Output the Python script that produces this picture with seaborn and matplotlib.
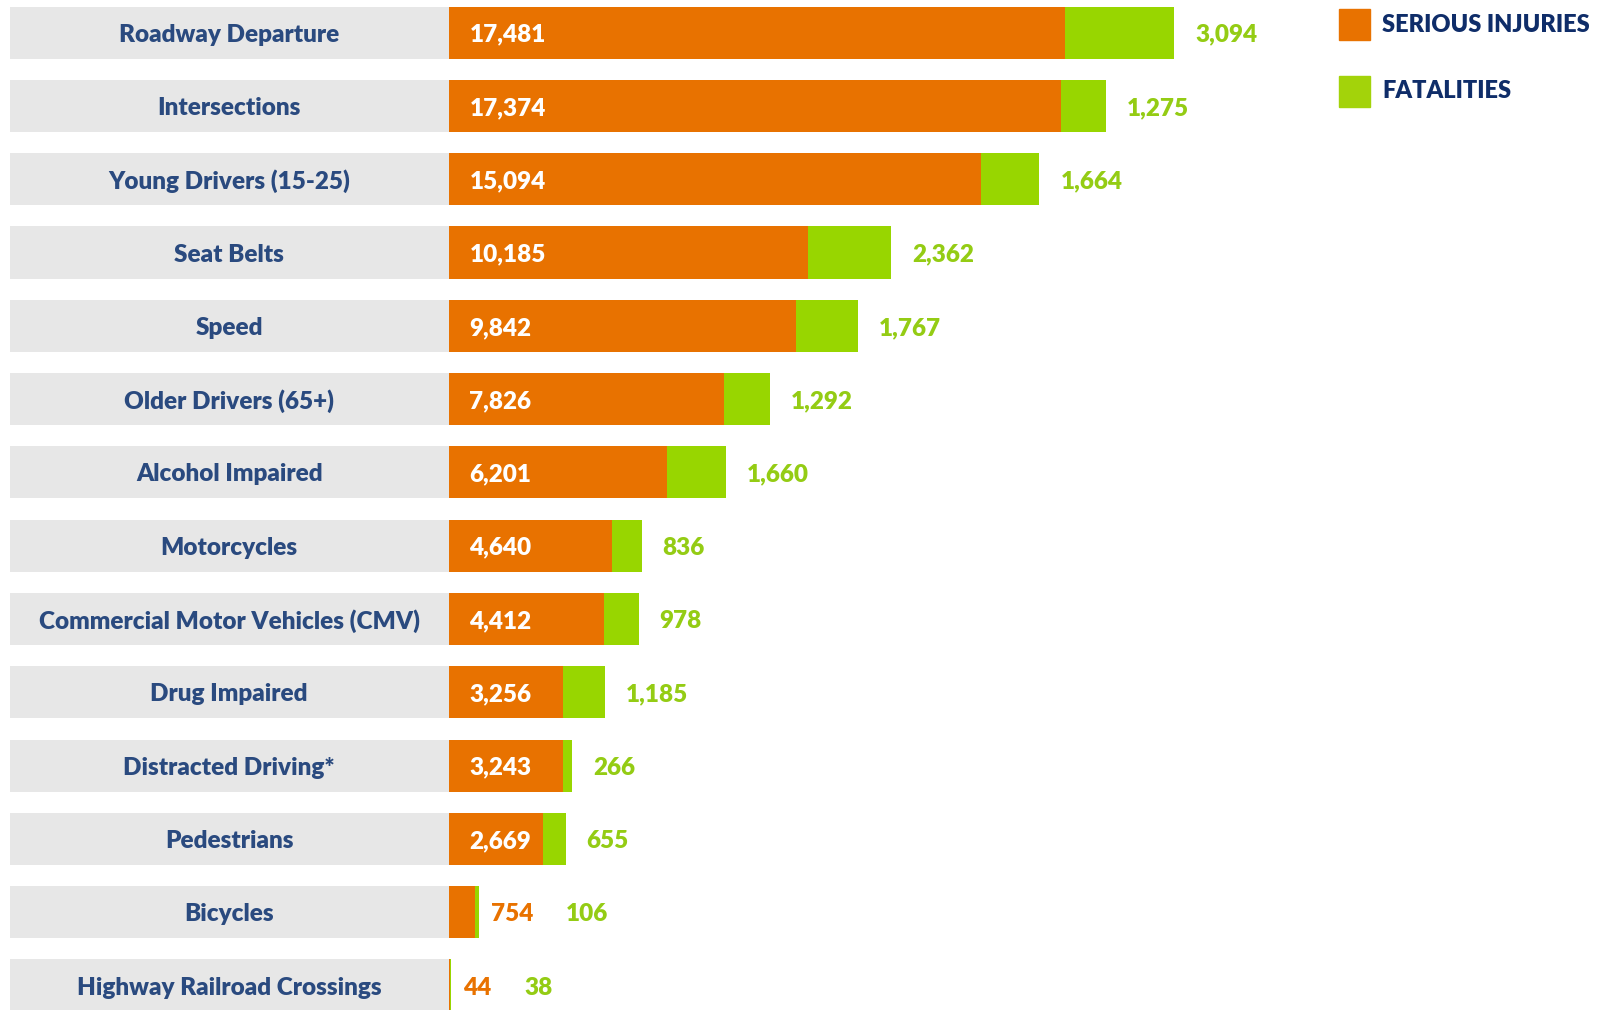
import numpy as np
import pandas as pd
import seaborn as sns
from matplotlib import pyplot as plt
from matplotlib.patches import Rectangle

# dados
categorias = ['Roadway Departure', 'Intersections', 'Young Drivers (15-25)', 'Seat Belts', 'Speed',
              'Older Drivers (65+)', 'Alcohol Impaired', 'Motorcycles', 'Commercial Motor Vehicles (CMV)',
              'Drug Impaired', 'Distracted Driving*', 'Pedestrians', 'Bicycles', 'Highway Railroad Crossings']
feridos = [17481, 17374, 15094, 10185, 9842, 7826, 6201, 4640, 4412, 3256, 3243, 2669, 754, 44]
mortes = [3094, 1275, 1664, 2362, 1767, 1292, 1660, 836, 978, 1185, 266, 655, 106, 38]
legenda = ['SERIOUS INJURIES', 'FATALITIES']

laranja = '#e87200'
verde = '#98d600'
verde_txt = '#94cc14'
cinza = '#e7e7e7'
azul = '#2a4a7f'
azul_leg = '#0f2d69'

plt.rcParams['font.family'] = ['Lato', 'DejaVu Sans']
PESO = 'heavy'
TAM = 17.5

df = pd.DataFrame({'categoria': categorias, 'feridos': feridos, 'mortes': mortes})
df['total'] = df['feridos'] + df['mortes']

W, H = 1598, 1010
U = 28.36      # unidades por pixel
X0 = 448.5     # pixel onde comeca a barra
fig = plt.figure(figsize=(W / 100, H / 100), dpi=100)
ax = fig.add_axes([0, 0, 1, 1])

# caixas cinzas dos rotulos
pos = np.arange(len(categorias))
larg_cinza = (X0 - 10) * U
ax.barh(pos, larg_cinza, left=-larg_cinza, height=0.71, color=cinza, linewidth=0)

# barras empilhadas: total (verde) por baixo, feridos (laranja) por cima
sns.barplot(data=df, x='total', y='categoria', color=verde, saturation=1, width=0.71,
            errorbar=None, linewidth=0, ax=ax)
sns.barplot(data=df, x='feridos', y='categoria', color=laranja, saturation=1, width=0.71,
            errorbar=None, linewidth=0, ax=ax)

ax.set_xlim(-X0 * U, (W - X0) * U)
ax.set_ylim(13.334, -0.445)
ax.axis('off')

for i, row in df.iterrows():
    ax.annotate(row['categoria'], xy=(-larg_cinza / 2, i), xytext=(0, -2), textcoords='offset pixels',
                ha='center', va='center', fontsize=TAM, fontweight=PESO, color=azul)
    if row['feridos'] >= 1000:
        ax.annotate(f"{row['feridos']:,}", xy=(0, i), xytext=(21, -2), textcoords='offset pixels',
                    ha='left', va='center', fontsize=TAM, fontweight=PESO, color='white')
        ax.annotate(f"{row['mortes']:,}", xy=(row['total'], i), xytext=(21, -2), textcoords='offset pixels',
                    ha='left', va='center', fontsize=TAM, fontweight=PESO, color=verde_txt)
    else:
        txt = f"{row['feridos']:,}"
        ax.annotate(txt, xy=(row['total'], i), xytext=(12, -2), textcoords='offset pixels',
                    ha='left', va='center', fontsize=TAM, fontweight=PESO, color=laranja)
        ax.annotate(f"{row['mortes']:,}", xy=(row['total'], i),
                    xytext=(12 + 14.3 * len(txt) + 32, -2), textcoords='offset pixels',
                    ha='left', va='center', fontsize=TAM, fontweight=PESO, color=verde_txt)

# legenda manual
for k, (nome, cor) in enumerate(zip(legenda, [laranja, '#a3d30a'])):
    topo = 9 + k * 67
    fig.patches.append(Rectangle((1339 / W, 1 - (topo + 31) / H), 31 / W, 31 / H,
                                 transform=fig.transFigure, color=cor))
    fig.text(1382 / W, 1 - (topo + 15.5) / H, nome, ha='left', va='center',
             fontsize=17, fontweight=PESO, color=azul_leg)

fig.savefig('out.png', dpi=100)
